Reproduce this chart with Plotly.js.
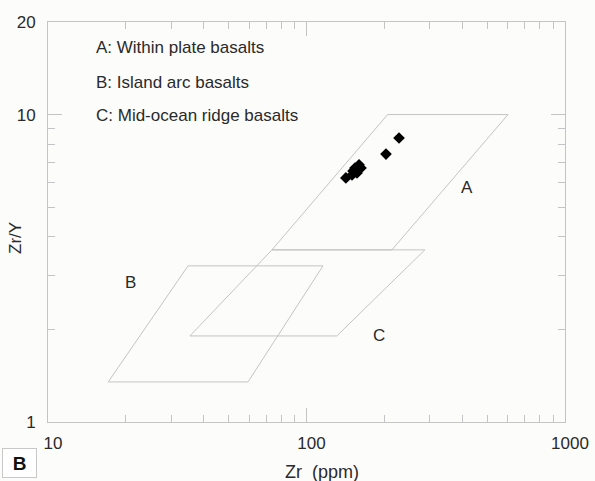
<!DOCTYPE html>
<html>
<head>
<meta charset="utf-8">
<script src="https://cdn.plot.ly/plotly-3.0.1.min.js"></script>
<style>
html,body{margin:0;padding:0;background:#fcfcfa;}
#chart{width:595px;height:481px;}
</style>
</head>
<body>
<div id="chart"></div>
<script>
// Field A: Within plate basalts (Zr ppm, Zr/Y)
const fieldA_zr = [206, 602, 214, 73.5, 206];
const fieldA_zry = [10.0, 10.0, 3.63, 3.63, 10.0];
// Field B: Island arc basalts
const fieldB_zr = [34.8, 115.8, 59.4, 17.1, 34.8];
const fieldB_zry = [3.22, 3.22, 1.35, 1.35, 3.22];
// Field C: Mid-ocean ridge basalts
const fieldC_zr = [73.5, 287, 131, 35.4, 73.5];
const fieldC_zry = [3.63, 3.63, 1.905, 1.905, 3.63];

// Samples
const sample_zr = [228, 203, 142, 150, 154, 159.7, 162.5, 156.8, 151.4];
const sample_zry = [8.39, 7.44, 6.22, 6.36, 6.70, 6.86, 6.70, 6.46, 6.55];

// Ticks
const xTickVals = [10, 100, 1000];
const xTickText = ['10', '100', '1000'];
const xMinorVals = [20, 30, 40, 50, 60, 70, 80, 90, 200, 300, 400, 500, 600, 700, 800, 900];
const yTickVals = [1, 10, 20];
const yTickText = ['1', '10', '20'];
const yMinorVals = [2, 3, 4, 5, 6, 7, 8, 9];

// Field labels
const fieldLabels = ['A', 'B', 'C'];
const fieldLabelZr = [418, 20.9, 190.8];
const fieldLabelZry = [5.81, 2.84, 1.905];
const legendLines = ['A: Within plate basalts', 'B: Island arc basalts', 'C: Mid-ocean ridge basalts'];

const lineCol = '#c4c4c4';
const txtCol = '#2a2a2a';
const font = 'Liberation Sans, Arial, sans-serif';

const fieldTrace = (x, y) => ({
  x: x, y: y, type: 'scatter', mode: 'lines',
  line: {color: lineCol, width: 1}, hoverinfo: 'skip', showlegend: false
});

const traces = [
  fieldTrace(fieldA_zr, fieldA_zry),
  fieldTrace(fieldB_zr, fieldB_zry),
  fieldTrace(fieldC_zr, fieldC_zry),
  {
    x: sample_zr, y: sample_zry, type: 'scatter', mode: 'markers',
    marker: {symbol: 'diamond', size: 9, color: '#000000', line: {width: 0}},
    showlegend: false
  }
];

const L = 48, R = 30, T = 22, B = 59, W = 595, H = 481;
const pw = W - L - R, ph = H - T - B;
function px(x) { return (x - L) / pw; }
function py(y) { return (H - B - y) / ph; }

const annotations = [];
for (let i = 0; i < fieldLabels.length; i++) {
  annotations.push({
    x: Math.log10(fieldLabelZr[i]), y: Math.log10(fieldLabelZry[i]),
    xref: 'x', yref: 'y', text: fieldLabels[i], showarrow: false,
    xanchor: 'center', yanchor: 'middle',
    font: {family: font, size: 17, color: txtCol}
  });
}
const legendY = [48, 82, 115];
for (let i = 0; i < legendLines.length; i++) {
  annotations.push({
    x: px(94), y: py(legendY[i]), xref: 'paper', yref: 'paper',
    text: legendLines[i], showarrow: false, xanchor: 'left', yanchor: 'middle',
    font: {family: font, size: 17, color: txtCol}
  });
}
// axis titles
annotations.push({
  x: px(322), y: py(472), xref: 'paper', yref: 'paper',
  text: 'Zr\u00a0\u00a0(ppm)', showarrow: false, xanchor: 'center', yanchor: 'middle',
  font: {family: font, size: 18, color: txtCol}
});
annotations.push({
  x: px(15), y: py(238), xref: 'paper', yref: 'paper',
  text: 'Zr/Y', showarrow: false, textangle: -90, xanchor: 'center', yanchor: 'middle',
  font: {family: font, size: 17, color: txtCol}
});
// panel label
annotations.push({
  x: px(19), y: py(462.5), xref: 'paper', yref: 'paper',
  text: '<b>B</b>', showarrow: false, xanchor: 'center', yanchor: 'middle',
  font: {family: font, size: 19, color: '#111'},
  bordercolor: '#c8c8c8', borderwidth: 1, bgcolor: '#ffffff',
  borderpad: 3, width: 27, height: 22
});

const axisCommon = {
  type: 'log', showgrid: false, zeroline: false, showline: true,
  linecolor: lineCol, linewidth: 1, mirror: 'ticks',
  ticks: 'inside', ticklen: 14, tickcolor: lineCol, tickwidth: 1,
  tickfont: {family: font, size: 17, color: txtCol}
};

const layout = {
  width: W, height: H,
  margin: {l: L, r: R, t: T, b: B},
  paper_bgcolor: '#fcfcfa', plot_bgcolor: '#fcfcfa',
  showlegend: false,
  xaxis: Object.assign({}, axisCommon, {
    range: [1, 3], tickmode: 'array', tickvals: xTickVals, ticktext: xTickText,
    ticklabelshift: 5, ticklabelstandoff: 6,
    minor: {tickmode: 'array', tickvals: xMinorVals, ticks: 'inside', ticklen: 7, tickcolor: lineCol, tickwidth: 1, showgrid: false}
  }),
  yaxis: Object.assign({}, axisCommon, {
    range: [0, Math.log10(20)], tickmode: 'array', tickvals: yTickVals, ticktext: yTickText,
    ticklabelstandoff: 8,
    minor: {tickmode: 'array', tickvals: yMinorVals, ticks: 'inside', ticklen: 7, tickcolor: lineCol, tickwidth: 1, showgrid: false}
  }),
  annotations: annotations
};

Plotly.newPlot('chart', traces, layout, {staticPlot: true, displayModeBar: false});
</script>
</body>
</html>
